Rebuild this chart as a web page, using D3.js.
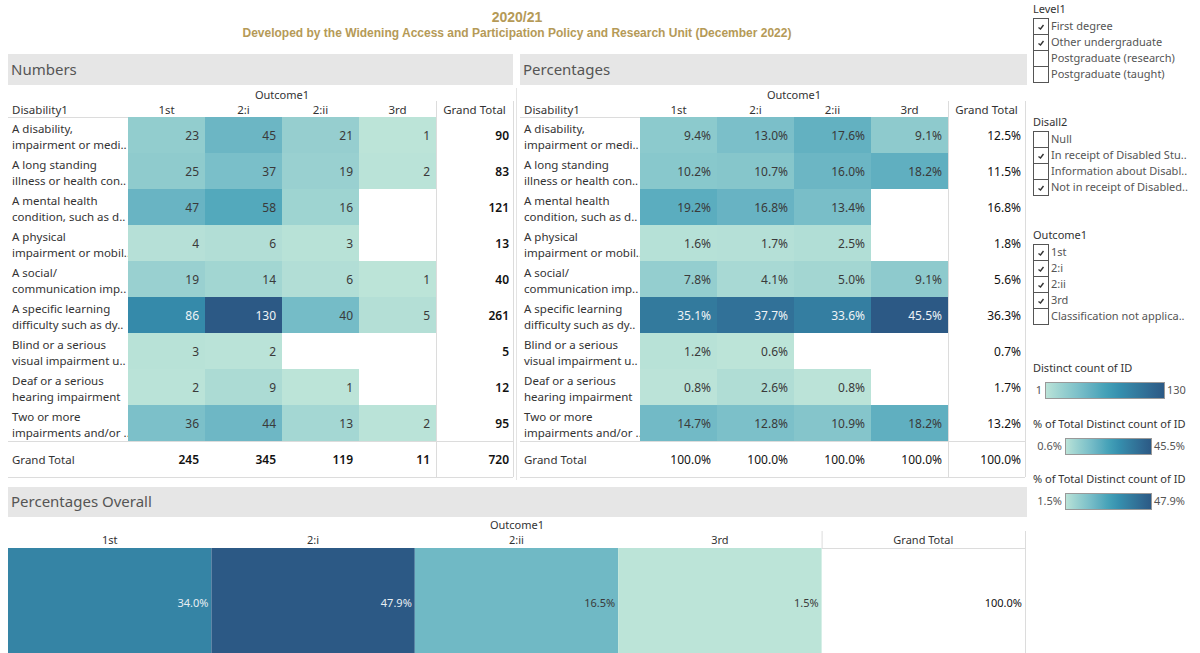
<!DOCTYPE html>
<html>
<head>
<meta charset="utf-8">
<script src="https://cdn.jsdelivr.net/npm/d3@7"></script>
<style>
  body { margin: 0; background: #fff; }
  svg text { font-family: "Noto Sans", sans-serif; }
</style>
</head>
<body>
<script>
const width = 1200;
const height = 653;

// ---- data ----
const outcomes = ["1st", "2:i", "2:ii", "3rd"];
const categories = [
    ["A disability,", "impairment or medi.."],
    ["A long standing", "illness or health con.."],
    ["A mental health", "condition, such as d.."],
    ["A physical", "impairment or mobil.."],
    ["A social/", "communication imp.."],
    ["A specific learning", "difficulty such as dy.."],
    ["Blind or a serious", "visual impairment u.."],
    ["Deaf or a serious", "hearing impairment"],
    ["Two or more", "impairments and/or .."]
];
const count1st = [23, 25, 47, 4, 19, 86, 3, 2, 36];
const count2i = [45, 37, 58, 6, 14, 130, 2, 9, 44];
const count2ii = [21, 19, 16, 3, 6, 40, null, 1, 13];
const count3rd = [1, 2, null, null, 1, 5, null, null, 2];
const countTotal = [90, 83, 121, 13, 40, 261, 5, 12, 95];
const countColTotal = [245, 345, 119, 11, 720];

const pct1st = [9.4, 10.2, 19.2, 1.6, 7.8, 35.1, 1.2, 0.8, 14.7];
const pct2i = [13.0, 10.7, 16.8, 1.7, 4.1, 37.7, 0.6, 2.6, 12.8];
const pct2ii = [17.6, 16.0, 13.4, 2.5, 5.0, 33.6, null, 0.8, 10.9];
const pct3rd = [9.1, 18.2, null, null, 9.1, 45.5, null, null, 18.2];
const pctTotal = [12.5, 11.5, 16.8, 1.8, 5.6, 36.3, 0.7, 1.7, 13.2];
const pctColTotal = [100.0, 100.0, 100.0, 100.0, 100.0];

const overallPct = [34.0, 47.9, 16.5, 1.5];
const overallTotal = 100.0;

const filterLevel = [["First degree", true], ["Other undergraduate", true], ["Postgraduate (research)", false], ["Postgraduate (taught)", false]];
const filterDisall = [["Null", false], ["In receipt of Disabled Stu..", true], ["Information about Disabl..", false], ["Not in receipt of Disabled..", true]];
const filterOutcome = [["1st", true], ["2:i", true], ["2:ii", true], ["3rd", true], ["Classification not applica..", false]];

// tableau blue-teal
const palette = ["#bce4d8", "#aedcd5", "#a1d5d2", "#95cecf", "#89c8cc", "#7ec1ca", "#72bac6", "#66b2c2", "#59acbe", "#4ba5ba",
    "#419eb6", "#3b96b2", "#358ead", "#3586a7", "#347ea1", "#32779b", "#316f96", "#2f6790", "#2d608a", "#2c5985"];
const interp = d3.piecewise(d3.interpolateRgb, palette);

const colNames = outcomes.concat(["Grand Total"]);
const gold = "#b59a57";

let svg = d3.select("body").append("svg")
    .attr("width", width)
    .attr("height", height);

// titles
svg.append("text")
    .attr("x", 517).attr("y", 22)
    .attr("text-anchor", "middle")
    .style("font-family", "'Liberation Sans', Arial, sans-serif")
    .style("font-weight", "bold")
    .style("font-size", "14px")
    .attr("fill", gold)
    .text("2020/21");
svg.append("text")
    .attr("x", 517).attr("y", 37)
    .attr("text-anchor", "middle")
    .style("font-family", "'Liberation Sans', Arial, sans-serif")
    .style("font-weight", "bold")
    .style("font-size", "12px")
    .attr("fill", gold)
    .text("Developed by the Widening Access and Participation Policy and Research Unit (December 2022)");

function panelHeader(x, w, y, h, label) {
    svg.append("rect").attr("x", x).attr("y", y).attr("width", w).attr("height", h).attr("fill", "#e6e6e6");
    svg.append("text").attr("x", x + 3).attr("y", y + h / 2 + 5)
        .style("font-size", "15px").attr("fill", "#555").text(label);
}

// crosstab panel
function crossTab(x0, seriesList, totals, colTotals, fmt, domain, boldTotals) {
    const color = d3.scaleSequential(interp).domain(domain);
    const x = d3.scaleBand().domain(colNames).range([x0 + 120, x0 + 505]);
    const y = d3.scaleBand().domain(d3.range(categories.length)).range([117, 441]);
    const g = svg.append("g");

    g.append("text").attr("x", (x("1st") + x("Grand Total")) / 2).attr("y", 99)
        .attr("text-anchor", "middle").style("font-size", "11px").attr("fill", "#333").text("Outcome1");
    g.append("text").attr("x", x0 + 4).attr("y", 114)
        .style("font-size", "11.5px").attr("fill", "#333").text("Disability1");
    g.selectAll(".colhead").data(colNames).enter().append("text")
        .attr("x", d => x(d) + x.bandwidth() / 2).attr("y", 114)
        .attr("text-anchor", "middle").style("font-size", "11.5px").attr("fill", "#333").text(d => d);

    // lines
    const lc = "#dcdcdc";
    g.append("line").attr("x1", x0).attr("x2", x0 + 120).attr("y1", 117.5).attr("y2", 117.5).attr("stroke", lc);
    g.append("line").attr("x1", x0).attr("x2", x0 + 505).attr("y1", 441.5).attr("y2", 441.5).attr("stroke", lc);
    g.append("line").attr("x1", x0).attr("x2", x0 + 505).attr("y1", 477.5).attr("y2", 477.5).attr("stroke", lc);
    g.append("line").attr("x1", x("Grand Total") + 0.5).attr("x2", x("Grand Total") + 0.5).attr("y1", 101).attr("y2", 477).attr("stroke", lc);
    g.append("line").attr("x1", x0 + 505.5).attr("x2", x0 + 505.5).attr("y1", 101).attr("y2", 477).attr("stroke", lc);

    // row labels
    categories.forEach((lab, i) => {
        const t = g.append("text").attr("x", x0 + 4).attr("y", y(i) + 16)
            .style("font-size", "11.5px").attr("fill", "#333");
        t.append("tspan").attr("x", x0 + 4).text(lab[0]);
        t.append("tspan").attr("x", x0 + 4).attr("dy", 16).text(lab[1]);
    });

    // cells
    seriesList.forEach((vals, j) => {
        const col = outcomes[j];
        const cells = vals.map((v, i) => ({ v: v, i: i })).filter(d => d.v !== null);
        g.selectAll(".c" + j).data(cells).enter().append("rect")
            .attr("x", x(col)).attr("y", d => y(d.i))
            .attr("width", x.bandwidth()).attr("height", y.bandwidth())
            .attr("fill", d => color(d.v));
        g.selectAll(".t" + j).data(cells).enter().append("text")
            .attr("x", x(col) + x.bandwidth() - 6).attr("y", d => y(d.i) + y.bandwidth() / 2 + 4.5)
            .attr("text-anchor", "end").style("font-size", "12px")
            .attr("fill", d => (d.v - domain[0]) / (domain[1] - domain[0]) > 0.55 ? "#eef3f6" : "#3a3a3a")
            .text(d => fmt(d.v));
    });

    // grand total column
    g.selectAll(".gt").data(totals).enter().append("text")
        .attr("x", x("Grand Total") + x.bandwidth() - 4).attr("y", (d, i) => y(i) + y.bandwidth() / 2 + 4.5)
        .attr("text-anchor", "end").style("font-size", "12px")
        .style("font-weight", boldTotals ? "600" : "normal")
        .attr("fill", "#111").text(d => fmt(d));

    // grand total row
    g.append("text").attr("x", x0 + 4).attr("y", 464).style("font-size", "11.5px").attr("fill", "#333").text("Grand Total");
    g.selectAll(".gr").data(colTotals).enter().append("text")
        .attr("x", (d, i) => x(colNames[i]) + x.bandwidth() - (i === 4 ? 4 : 6)).attr("y", 464)
        .attr("text-anchor", "end").style("font-size", "12px")
        .style("font-weight", boldTotals ? "600" : "normal")
        .attr("fill", "#111").text(d => fmt(d));
}

panelHeader(8, 505, 54, 31, "Numbers");
panelHeader(520, 507, 54, 31, "Percentages");
svg.append("line").attr("x1", 516.5).attr("x2", 516.5).attr("y1", 88).attr("y2", 480).attr("stroke", "#e4e4e4");

crossTab(8, [count1st, count2i, count2ii, count3rd], countTotal, countColTotal, d => d3.format("d")(d), [1, 130], true);
crossTab(520, [pct1st, pct2i, pct2ii, pct3rd], pctTotal, pctColTotal, d => d3.format(".1f")(d) + "%", [0.6, 45.5], false);

// percentages overall
panelHeader(8, 1019, 487, 30, "Percentages Overall");
{
    const color = d3.scaleSequential(interp).domain([1.5, 47.9]);
    const x = d3.scaleBand().domain(colNames).range([8, 1025]);
    const g = svg.append("g");
    g.append("text").attr("x", 517).attr("y", 529).attr("text-anchor", "middle")
        .style("font-size", "11px").attr("fill", "#333").text("Outcome1");
    g.selectAll(".h").data(colNames).enter().append("text")
        .attr("x", d => x(d) + x.bandwidth() / 2).attr("y", 544)
        .attr("text-anchor", "middle").style("font-size", "11px").attr("fill", "#333").text(d => d);
    g.append("line").attr("x1", x("Grand Total") + 0.5).attr("x2", x("Grand Total") + 0.5).attr("y1", 531).attr("y2", 548).attr("stroke", "#dcdcdc");
    g.append("line").attr("x1", 1025.5).attr("x2", 1025.5).attr("y1", 531).attr("y2", 653).attr("stroke", "#dcdcdc");
    g.append("line").attr("x1", x("Grand Total")).attr("x2", 1025).attr("y1", 548.5).attr("y2", 548.5).attr("stroke", "#dcdcdc");
    g.selectAll(".b").data(overallPct).enter().append("rect")
        .attr("x", (d, i) => x(outcomes[i])).attr("y", 548)
        .attr("width", x.bandwidth()).attr("height", 110)
        .attr("fill", d => color(d));
    g.selectAll(".bt").data(overallPct).enter().append("text")
        .attr("x", (d, i) => x(outcomes[i]) + x.bandwidth() - 3).attr("y", 607)
        .attr("text-anchor", "end").style("font-size", "11px")
        .attr("fill", d => (d - 1.5) / (47.9 - 1.5) > 0.55 ? "#e8eef3" : "#3a3a3a")
        .text(d => d3.format(".1f")(d) + "%");
    g.append("text").attr("x", 1022).attr("y", 607).attr("text-anchor", "end")
        .style("font-size", "11px").attr("fill", "#111").text(d3.format(".1f")(overallTotal) + "%");
}

// filters
function filterList(x0, y0, title, items) {
    const g = svg.append("g");
    g.append("text").attr("x", x0).attr("y", y0).style("font-size", "11px").attr("fill", "#333").text(title);
    items.forEach((it, i) => {
        const top = y0 + 5 + i * 16;
        g.append("rect").attr("x", x0 + 0.5).attr("y", top + 0.5).attr("width", 15).attr("height", 16)
            .attr("fill", "#fff").attr("stroke", "#555");
        if (it[1]) {
            g.append("path").attr("d", `M${x0 + 5.5},${top + 9.5} L${x0 + 7.5},${top + 11} L${x0 + 10.5},${top + 7}`)
                .attr("fill", "none").attr("stroke", "#333").attr("stroke-width", 1.4);
        }
        g.append("text").attr("x", x0 + 18).attr("y", top + 12).style("font-size", "11px").attr("fill", "#555").text(it[0]);
    });
}
filterList(1033, 13, "Level1", filterLevel);
filterList(1033, 126, "Disall2", filterDisall);
filterList(1033, 239, "Outcome1", filterOutcome);

// colour legends
const defs = svg.append("defs");
const grad = defs.append("linearGradient").attr("id", "ramp");
palette.forEach((c, i) => grad.append("stop").attr("offset", i / (palette.length - 1)).attr("stop-color", c));

function rampLegend(y0, title, lo, hi, rx0, rx1) {
    const g = svg.append("g");
    g.append("text").attr("x", 1033).attr("y", y0).style("font-size", "11px").attr("fill", "#333").text(title);
    g.append("rect").attr("x", rx0 + 0.5).attr("y", y0 + 10.5).attr("width", rx1 - rx0).attr("height", 16)
        .attr("fill", "url(#ramp)").attr("stroke", "#999");
    g.append("text").attr("x", rx0 - 3).attr("y", y0 + 22).attr("text-anchor", "end")
        .style("font-size", "11px").attr("fill", "#555").text(lo);
    g.append("text").attr("x", rx1 + 3).attr("y", y0 + 22)
        .style("font-size", "11px").attr("fill", "#555").text(hi);
}
rampLegend(372, "Distinct count of ID", "1", "130", 1045, 1164);
rampLegend(428, "% of Total Distinct count of ID", "0.6%", "45.5%", 1065, 1151);
rampLegend(483, "% of Total Distinct count of ID", "1.5%", "47.9%", 1065, 1151);
</script>
</body>
</html>
